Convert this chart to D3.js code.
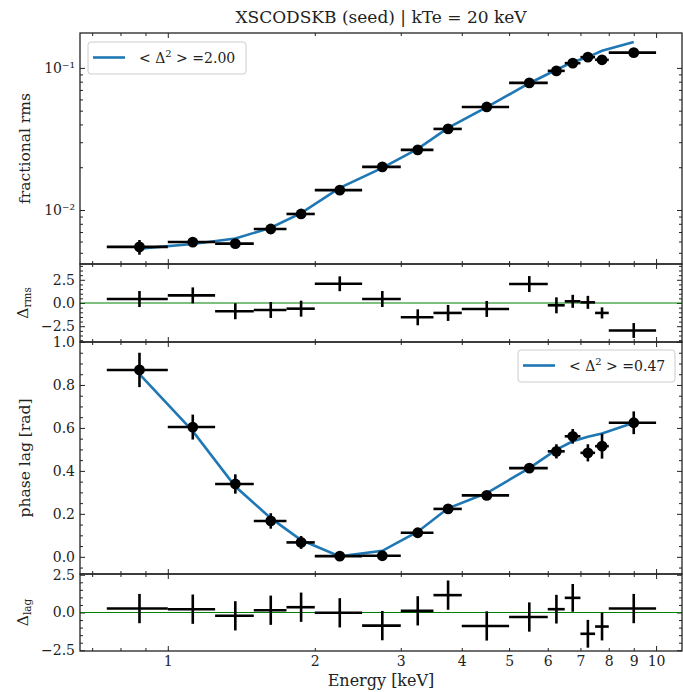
<!DOCTYPE html>
<html lang="en">
<head>
<meta charset="utf-8">
<title>XSCODSKB seed</title>
<style>
	body { margin: 0; background: #fff; }
	text { font-family: "DejaVu Serif", serif; fill: #222; }
</style>
</head>
<body>
<script src="https://cdn.jsdelivr.net/npm/d3@7"></script>
<script>
// energy bins [keV]
const eLo = [0.75, 1.0, 1.25, 1.5, 1.75, 2.0, 2.5, 3.0, 3.5, 4.0, 5.0, 6.0, 6.5, 7.0, 7.5, 8.0];
const eHi = [1.0, 1.25, 1.5, 1.75, 2.0, 2.5, 3.0, 3.5, 4.0, 5.0, 6.0, 6.5, 7.0, 7.5, 8.0, 10.0];

// fractional rms
const rms = [0.0055, 0.00595, 0.0058, 0.00735, 0.00938, 0.0138, 0.0201, 0.0265, 0.0372, 0.0531, 0.0784, 0.0953, 0.108, 0.119, 0.114, 0.128];
const rmsErr = [0.00065, 0.0003, 0.0003, 0.0003, 0.0004, 0.0006, 0.0008, 0.001, 0.0014, 0.002, 0.003, 0.004, 0.005, 0.006, 0.009, 0.005];
const rmsModel = [0.00535, 0.00577, 0.0063, 0.0075, 0.0095, 0.0143, 0.0198, 0.0269, 0.0378, 0.053, 0.078, 0.097, 0.110, 0.119, 0.132, 0.152];
const rmsRes = [0.43, 0.82, -0.89, -0.75, -0.61, 2.07, 0.43, -1.54, -1.07, -0.64, 2.04, -0.25, 0.18, 0.07, -1.07, -2.96];
const rmsResErr = [0.86, 0.86, 0.86, 0.86, 0.86, 0.8, 0.86, 0.86, 0.86, 0.86, 0.86, 0.86, 0.7, 0.7, 0.6, 0.8];

// phase lag [rad]
const lag = [0.870, 0.604, 0.339, 0.167, 0.067, 0.003, 0.005, 0.112, 0.223, 0.286, 0.413, 0.491, 0.561, 0.484, 0.515, 0.624];
const lagErr = [0.08, 0.058, 0.045, 0.036, 0.03, 0.02, 0.018, 0.015, 0.015, 0.012, 0.012, 0.033, 0.034, 0.04, 0.058, 0.053];
const lagModel = [0.85, 0.585, 0.327, 0.18, 0.078, 0.002, 0.028, 0.117, 0.226, 0.297, 0.413, 0.499, 0.538, 0.559, 0.574, 0.624];
const lagRes = [0.26, 0.22, -0.22, 0.15, 0.35, -0.02, -0.87, 0.11, 1.15, -0.89, -0.3, 0.22, 0.97, -1.41, -0.93, 0.26];
const lagResErr = [0.97, 0.97, 0.97, 0.97, 0.97, 0.97, 0.97, 0.97, 0.97, 0.97, 0.97, 0.95, 0.92, 0.92, 0.92, 0.97];

const xMajor = [1, 10];
const xMinor = [0.7, 0.8, 0.9, 2, 3, 4, 5, 6, 7, 8, 9];
const xLabels = [1, 2, 3, 4, 5, 6, 7, 8, 9, 10];

const chiRms = "2.00";
const chiLag = "0.47";

const width = 683, height = 692;
const left = 80, right = 682;

const mid = eLo.map((d, i) => (d + eHi[i]) / 2);

const x = d3.scaleLog().domain([0.661, 11.3]).range([left, right]);

const svg = d3.select("body").append("svg")
	.attr("width", width)
	.attr("height", height);

function range(a, b, s) {
	const out = [];
	for (let v = a; v <= b + 1e-9; v += s) out.push(+v.toFixed(4));
	return out;
}

function drawPanel(p) {
	const g = svg.append("g");
	const y = p.y;

	// x ticks, top and bottom, pointing in
	const xa = [
		[d3.axisTop, p.top], [d3.axisBottom, p.bottom]
	];
	for (const [ax, pos] of xa) {
		g.append("g").attr("transform", `translate(0,${pos})`)
			.call(ax(x).tickValues(xMajor).tickSize(-5).tickSizeOuter(0).tickFormat(""));
		g.append("g").attr("transform", `translate(0,${pos})`)
			.call(ax(x).tickValues(xMinor).tickSize(-3).tickSizeOuter(0).tickFormat(""));
	}

	// y ticks, left and right
	g.append("g").attr("transform", `translate(${left},0)`)
		.call(d3.axisLeft(y).tickValues(p.major).tickSize(-5).tickSizeOuter(0).tickPadding(5).tickFormat(p.fmt))
		.call(a => a.selectAll("text").attr("font-size", 14).attr("fill", "#222"));
	g.append("g").attr("transform", `translate(${left},0)`)
		.call(d3.axisLeft(y).tickValues(p.minor).tickSize(-3).tickSizeOuter(0).tickFormat(""));
	g.append("g").attr("transform", `translate(${right},0)`)
		.call(d3.axisRight(y).tickValues(p.major).tickSize(-5).tickSizeOuter(0).tickFormat(""));
	g.append("g").attr("transform", `translate(${right},0)`)
		.call(d3.axisRight(y).tickValues(p.minor).tickSize(-3).tickSizeOuter(0).tickFormat(""));

	g.selectAll(".domain").remove();
	g.selectAll(".tick line").attr("stroke", "#222").attr("stroke-width", 1);

	// y label
	const lab = svg.append("text")
		.attr("transform", `translate(${p.labelX},${(p.top + p.bottom) / 2}) rotate(-90)`)
		.attr("text-anchor", "middle")
		.attr("font-size", 15.5);
	if (p.sub) {
		lab.append("tspan").text("Δ");
		lab.append("tspan").attr("font-size", 10.5).attr("dy", 3).text(p.sub);
	} else {
		lab.text(p.label);
	}
	return g;
}

function border(p) {
	svg.append("rect")
		.attr("x", left).attr("y", p.top)
		.attr("width", right - left).attr("height", p.bottom - p.top)
		.attr("fill", "none").attr("stroke", "#222").attr("stroke-width", 1.3);
}

function errorbars(g, y, vals, errs, withMarker) {
	const eb = g.append("g").attr("stroke", "#000").attr("stroke-width", 2.6);
	vals.forEach((v, i) => {
		eb.append("line")
			.attr("x1", x(eLo[i])).attr("x2", x(eHi[i]))
			.attr("y1", y(v)).attr("y2", y(v));
		eb.append("line")
			.attr("x1", x(mid[i])).attr("x2", x(mid[i]))
			.attr("y1", y(v - errs[i])).attr("y2", y(v + errs[i]));
	});
	if (withMarker) {
		g.append("g").selectAll("circle")
			.data(vals)
			.join("circle")
			.attr("cx", (d, i) => x(mid[i]))
			.attr("cy", d => y(d))
			.attr("r", 5.4)
			.attr("fill", "#000");
	}
}

function modelLine(g, y, vals) {
	g.append("path")
		.datum(vals)
		.attr("fill", "none")
		.attr("stroke", "#1f77b4")
		.attr("stroke-width", 2.6)
		.attr("d", d3.line().x((d, i) => x(mid[i])).y(d => y(d)));
}

function legend(lx, ly, w, val) {
	const g = svg.append("g").attr("transform", `translate(${lx},${ly})`);
	g.append("rect")
		.attr("width", w).attr("height", 32).attr("rx", 3)
		.attr("fill", "#fff").attr("fill-opacity", 0.8)
		.attr("stroke", "#ccc").attr("stroke-width", 1);
	g.append("line")
		.attr("x1", 5).attr("x2", 37).attr("y1", 15.5).attr("y2", 15.5)
		.attr("stroke", "#1f77b4").attr("stroke-width", 2.6);
	const t = g.append("text").attr("x", 51).attr("y", 21).attr("font-size", 14);
	t.append("tspan").text("< Δ");
	t.append("tspan").attr("font-size", 10).attr("dy", -6).text("2");
	t.append("tspan").attr("dy", 6).text(" > =" + val);
}

function zeroLine(g, y) {
	g.append("line")
		.attr("x1", left).attr("x2", right)
		.attr("y1", y(0)).attr("y2", y(0))
		.attr("stroke", "#008000").attr("stroke-width", 1.2);
}

const sup = { "-": "⁻", "1": "¹", "2": "²", "3": "³" };
const fmtRes = d => d3.format(".1f")(d).replace("-", "−");

// fractional rms panel
const pRms = { top: 33, bottom: 264, labelX: 30, label: "fractional rms" };
pRms.y = d3.scaleLog().domain([0.00417, 0.176]).range([pRms.bottom, pRms.top]);
pRms.major = [0.01, 0.1];
pRms.minor = [0.005, 0.006, 0.007, 0.008, 0.009, 0.02, 0.03, 0.04, 0.05, 0.06, 0.07, 0.08, 0.09];
pRms.fmt = d => "10" + String(Math.round(Math.log10(d))).split("").map(c => sup[c]).join("");

// rms residual panel
const pRr = { top: 264, bottom: 342, labelX: 28, sub: "rms" };
pRr.y = d3.scaleLinear().domain([-4.2, 4.2]).range([pRr.bottom, pRr.top]);
pRr.major = [-2.5, 0, 2.5];
pRr.minor = range(-4, 4, 0.5).filter(v => !pRr.major.includes(v));
pRr.fmt = fmtRes;

// phase lag panel
const pLag = { top: 342, bottom: 574, labelX: 30, label: "phase lag [rad]" };
pLag.y = d3.scaleLinear().domain([-0.08, 1.0]).range([pLag.bottom, pLag.top]);
pLag.major = [0, 0.2, 0.4, 0.6, 0.8, 1.0];
pLag.minor = range(-0.05, 0.95, 0.05).filter(v => !pLag.major.some(m => Math.abs(m - v) < 1e-6));
pLag.fmt = fmtRes;

// lag residual panel
const pLr = { top: 574, bottom: 651, labelX: 28, sub: "lag" };
pLr.y = d3.scaleLinear().domain([-2.55, 2.55]).range([pLr.bottom, pLr.top]);
pLr.major = [-2.5, 0, 2.5];
pLr.minor = range(-2, 2, 0.5).filter(v => !pLr.major.includes(v));
pLr.fmt = fmtRes;

const gRms = drawPanel(pRms);
modelLine(gRms, pRms.y, rmsModel);
errorbars(gRms, pRms.y, rms, rmsErr, true);

const gRr = drawPanel(pRr);
zeroLine(gRr, pRr.y);
errorbars(gRr, pRr.y, rmsRes, rmsResErr, false);

const gLag = drawPanel(pLag);
modelLine(gLag, pLag.y, lagModel);
errorbars(gLag, pLag.y, lag, lagErr, true);

const gLr = drawPanel(pLr);
zeroLine(gLr, pLr.y);
errorbars(gLr, pLr.y, lagRes, lagResErr, false);

[pRms, pRr, pLag, pLr].forEach(border);

legend(88, 42, 158, chiRms);
legend(518, 350, 157, chiLag);

// x tick labels on the bottom panel
svg.append("g").attr("transform", `translate(0,${pLr.bottom})`)
	.call(d3.axisBottom(x).tickValues(xLabels).tickSize(0).tickPadding(5).tickFormat(d3.format("d")))
	.call(a => a.select(".domain").remove())
	.call(a => a.selectAll("text").attr("font-size", 14).attr("fill", "#222"));

svg.append("text")
	.attr("x", (left + right) / 2).attr("y", 686)
	.attr("text-anchor", "middle").attr("font-size", 16)
	.text("Energy [keV]");

svg.append("text")
	.attr("x", (left + right) / 2).attr("y", 23)
	.attr("text-anchor", "middle").attr("font-size", 17)
	.text("XSCODSKB (seed) | kTe = 20 keV");
</script>
</body>
</html>
